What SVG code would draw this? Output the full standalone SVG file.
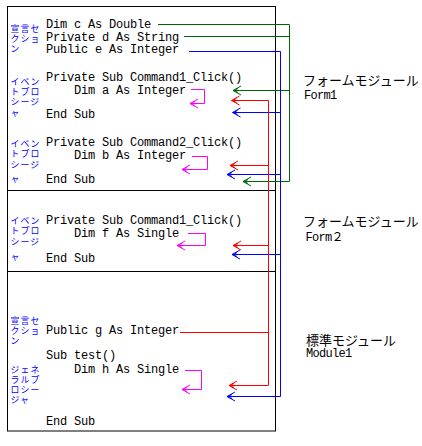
<svg xmlns="http://www.w3.org/2000/svg" width="422" height="446" viewBox="0 0 422 446">
<style>
.code{font-family:"Liberation Mono","DejaVu Sans Mono",monospace;font-size:12px;letter-spacing:-0.2px;fill:#000}
.lbl{font-family:"Liberation Sans","Noto Sans CJK JP","Noto Sans CJK SC",sans-serif;font-size:8.9px;letter-spacing:1.1px;fill:#0000ff}
.mod{font-family:"Noto Sans CJK JP","Noto Sans CJK SC",sans-serif;font-size:13px;fill:#000}
.modl{font-family:"Liberation Mono","DejaVu Sans Mono","Noto Sans CJK JP",monospace;font-size:12px;letter-spacing:-0.7px;fill:#000}
.frame{fill:none;stroke:#000;stroke-width:1}
.c{fill:none;stroke-width:1}
.g{stroke:#006600}.b{stroke:#0000ff}.r{stroke:#ff0000}.m{stroke:#ff00ff}
.ag{marker-end:url(#mg)}.ab{marker-end:url(#mb)}.ar{marker-end:url(#mr)}.am{marker-end:url(#mm)}
</style>
<defs>
<marker id="mg" markerUnits="userSpaceOnUse" viewBox="-10 -6 12 12" refX="0" refY="0" markerWidth="12" markerHeight="12" orient="auto" overflow="visible"><path d="M-8,-4.5 L0,0 L-8,4.5 M-5,-2 L-1,0 L-5,2" fill="none" stroke="#006600" stroke-width="1"/></marker>
<marker id="mb" markerUnits="userSpaceOnUse" viewBox="-10 -6 12 12" refX="0" refY="0" markerWidth="12" markerHeight="12" orient="auto" overflow="visible"><path d="M-8,-4.5 L0,0 L-8,4.5 M-5,-2 L-1,0 L-5,2" fill="none" stroke="#0000ff" stroke-width="1"/></marker>
<marker id="mr" markerUnits="userSpaceOnUse" viewBox="-10 -6 12 12" refX="0" refY="0" markerWidth="12" markerHeight="12" orient="auto" overflow="visible"><path d="M-8,-4.5 L0,0 L-8,4.5 M-5,-2 L-1,0 L-5,2" fill="none" stroke="#ff0000" stroke-width="1"/></marker>
<marker id="mm" markerUnits="userSpaceOnUse" viewBox="-10 -6 12 12" refX="0" refY="0" markerWidth="12" markerHeight="12" orient="auto" overflow="visible"><path d="M-8,-4.5 L0,0 L-8,4.5 M-5,-2 L-1,0 L-5,2" fill="none" stroke="#ff00ff" stroke-width="1"/></marker>
</defs>
<rect width="422" height="446" fill="#fff"/>
<g id="frame">
<rect class="frame" x="7.5" y="6.5" width="268" height="424.5"/>
<line class="frame" x1="7.5" y1="190.5" x2="275.5" y2="190.5"/>
<line class="frame" x1="7.5" y1="271.5" x2="275.5" y2="271.5"/>
</g>
<g id="form1-declarations">
<text class="lbl"><tspan x="10.5" y="31.5">宣言セ</tspan><tspan x="10.5" y="41.5">クショ</tspan><tspan x="10.5" y="51.5">ン</tspan></text>
<text class="code" x="46" y="28">Dim c As Double</text>
<text class="code" x="46" y="40.5">Private d As String</text>
<text class="code" x="46" y="53">Public e As Integer</text>
</g>
<g id="form1-command1">
<text class="lbl"><tspan x="10.5" y="85">イベン</tspan><tspan x="10.5" y="95">トプロ</tspan><tspan x="10.5" y="105">シージ</tspan><tspan x="10.5" y="115.5">ャ</tspan></text>
<text class="code" x="46" y="81">Private Sub Command1_Click()</text>
<text class="code" x="74" y="93.5">Dim a As Integer</text>
<text class="code" x="46" y="117.5">End Sub</text>
</g>
<g id="form1-command2">
<text class="lbl"><tspan x="10.5" y="147">イベン</tspan><tspan x="10.5" y="157">トプロ</tspan><tspan x="10.5" y="167.5">シージ</tspan><tspan x="10.5" y="182">ャ</tspan></text>
<text class="code" x="46" y="145.5">Private Sub Command2_Click()</text>
<text class="code" x="74" y="158.5">Dim b As Integer</text>
<text class="code" x="46" y="183">End Sub</text>
</g>
<g id="form2-command1">
<text class="lbl"><tspan x="10.5" y="224">イベン</tspan><tspan x="10.5" y="234">トプロ</tspan><tspan x="10.5" y="245">シージ</tspan><tspan x="10.5" y="259.5">ャ</tspan></text>
<text class="code" x="46" y="223.5">Private Sub Command1_Click()</text>
<text class="code" x="74" y="236.5">Dim f As Single</text>
<text class="code" x="46" y="261.5">End Sub</text>
</g>
<g id="module1">
<text class="lbl"><tspan x="10.5" y="324">宣言セ</tspan><tspan x="10.5" y="334">クショ</tspan><tspan x="10.5" y="344">ン</tspan></text>
<text class="code" x="46" y="333.5">Public g As Integer</text>
<text class="lbl"><tspan x="10.5" y="373">ジェネ</tspan><tspan x="10.5" y="383">ラルプ</tspan><tspan x="10.5" y="393">ロシー</tspan><tspan x="10.5" y="403">ジャ</tspan></text>
<text class="code" x="46" y="359">Sub test()</text>
<text class="code" x="74" y="373">Dim h As Single</text>
<text class="code" x="46" y="425">End Sub</text>
</g>
<g id="labels">
<text class="mod" x="303" y="84.5">フォームモジュール</text>
<text class="modl" x="304" y="99">Form1</text>
<text class="mod" x="303" y="225.5">フォームモジュール</text>
<text class="modl" x="305.5" y="241">Form２</text>
<text class="mod" x="306" y="344.5">標準モジュール</text>
<text class="modl" x="306" y="357">Module1</text>
</g>
<g id="connectors">
<path class="c g" d="M158,24.5 H289.5"/>
<path class="c g" d="M184,36.5 H289.5"/>
<path class="c g ag" d="M289.5,24.5 V181.5 H243"/>
<path class="c g ag" d="M289.5,90.5 H233"/>
<path class="c b ab" d="M189,51.5 H280.5 V396.5 H227"/>
<path class="c b ab" d="M280.5,112.5 H232.5"/>
<path class="c b ab" d="M280.5,174.5 H227"/>
<path class="c b ab" d="M280.5,254.5 H232"/>
<path class="c r" d="M180,332.5 H268.5"/>
<path class="c r ar" d="M268.5,100.5 V385.5 H229"/>
<path class="c r ar" d="M268.5,100.5 H231.5"/>
<path class="c r ar" d="M268.5,165.5 H230"/>
<path class="c r ar" d="M268.5,245.5 H233"/>
<path class="c m am" d="M191,89.5 H204.5 V103.5 H190"/>
<path class="c m am" d="M192,156.5 H207.5 V169.5 H182"/>
<path class="c m am" d="M188,233.5 H205.5 V245.5 H177"/>
<path class="c m am" d="M185,370.5 H201.5 V389.5 H182"/>
</g>
</svg>
